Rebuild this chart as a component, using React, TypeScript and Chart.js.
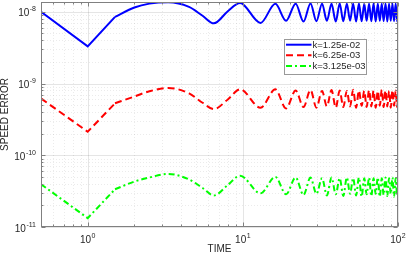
import React, { useEffect, useRef } from 'react';
import { Chart, registerables } from 'chart.js';

Chart.register(...registerables);

const seriesLabels = ['k=1.25e-02', 'k=6.25e-03', 'k=3.125e-03'];
const seriesColors = ['#0000ff', '#ff0000', '#00ff00'];
const seriesDashes: number[][] = [[], [7, 4], [6, 3, 2, 3]];

const headTimes = [0.5, 1, 1.5];
const blueHead = [1.0e-8, 3.3e-9, 8.5e-9];
const redHead = [6.2e-10, 2.13e-10, 5.3e-10];
const greenHead = [3.95e-11, 1.33e-11, 3.36e-11];

const mainTimes = [
  1.5, 2, 2.5, 3.3, 4.5, 5.5, 6.5, 8.0,
  9.6, 13.0, 16.2, 19.0, 21.9, 24.6, 27.3, 29.8, 32.4, 34.8, 37.3, 39.7,
  42.1, 44.4, 46.8, 49.1, 51.4, 53.7, 56.0, 58.3, 60.6, 62.8, 65.1, 67.3,
  69.6, 71.8, 74.1, 76.3, 78.6, 80.8, 83.1, 85.3, 87.6, 89.8, 92.1, 94.3,
  96.6, 98.8, 100,
];
const blueMain = [
  8.5e-9, 1.15e-8, 1.3e-8, 1.36e-8, 1.17e-8, 8.8e-9, 6.9e-9, 1.02e-8,
  1.33e-8, 7.0e-9, 1.29e-8, 7.5e-9, 1.3e-8, 7.3e-9, 1.31e-8, 7.4e-9, 1.3e-8, 7.5e-9, 1.29e-8, 7.3e-9,
  1.31e-8, 7.4e-9, 1.3e-8, 7.5e-9, 1.3e-8, 7.3e-9, 1.31e-8, 7.4e-9, 1.29e-8, 7.5e-9, 1.3e-8, 7.4e-9,
  1.31e-8, 7.3e-9, 1.3e-8, 7.5e-9, 1.29e-8, 7.4e-9, 1.31e-8, 7.3e-9, 1.3e-8, 7.5e-9, 1.3e-8, 7.4e-9,
  1.31e-8, 7.3e-9, 1.0e-8,
];
const redMain = [
  5.3e-10, 6.6e-10, 7.8e-10, 8.7e-10, 7.3e-10, 5.4e-10, 4.4e-10, 6.0e-10,
  8.3e-10, 4.6e-10, 8.3e-10, 4.5e-10, 8.0e-10, 4.7e-10, 8.1e-10, 4.6e-10, 7.9e-10, 4.8e-10, 8.1e-10, 4.6e-10,
  8.0e-10, 4.7e-10, 7.9e-10, 4.8e-10, 8.2e-10, 4.6e-10, 8.0e-10, 4.9e-10, 7.9e-10, 4.7e-10, 8.1e-10, 4.8e-10,
  8.0e-10, 4.6e-10, 7.9e-10, 4.9e-10, 8.2e-10, 4.7e-10, 8.0e-10, 4.8e-10, 7.9e-10, 4.6e-10, 8.1e-10, 4.9e-10,
  8.0e-10, 4.7e-10, 6.0e-10,
];
const greenMain = [
  3.36e-11, 4.3e-11, 4.9e-11, 5.5e-11, 4.6e-11, 3.5e-11, 2.75e-11, 3.85e-11,
  5.2e-11, 2.95e-11, 5.0e-11, 2.85e-11, 4.9e-11, 2.8e-11, 4.9e-11, 2.9e-11, 4.8e-11, 2.75e-11, 4.9e-11, 2.85e-11,
  4.8e-11, 2.7e-11, 4.9e-11, 2.9e-11, 4.8e-11, 2.75e-11, 4.9e-11, 2.65e-11, 4.8e-11, 2.85e-11, 4.9e-11, 2.7e-11,
  4.8e-11, 2.9e-11, 4.9e-11, 2.65e-11, 4.8e-11, 2.8e-11, 4.9e-11, 2.7e-11, 4.8e-11, 2.9e-11, 4.9e-11, 2.65e-11,
  4.8e-11, 2.75e-11, 3.8e-11,
];

const xMin = 0.5;
const xMax = 100;
const yMin = 1e-11;
const yMax = 1.37e-8;
const xTickValues = [1, 10, 100];
const xTickExps = ['0', '1', '2'];
const yTickValues = [1e-11, 1e-10, 1e-9, 1e-8];
const yTickExps = ['-11', '-10', '-9', '-8'];
const xTitle = 'TIME';
const yTitle = 'SPEED ERROR';

const FONT = '"Liberation Sans", Arial, Helvetica, sans-serif';
const TEXT = '#262626';
const AXIS = '#808080';

function minorValues(lo: number, hi: number, majors: number[]): number[] {
  const out: number[] = [];
  const decades = [1e-12, 1e-11, 1e-10, 1e-9, 1e-8, 0.1, 1, 10];
  for (const d of decades) {
    for (let m = 2; m <= 9; m++) {
      const v = m * d;
      if (v >= lo * 0.999 && v <= hi * 1.001 && !majors.includes(v)) out.push(v);
    }
  }
  return out;
}

function drawPow(ctx: CanvasRenderingContext2D, exp: string, x: number, y: number, align: 'right' | 'center') {
  ctx.font = `10px ${FONT}`;
  const wb = ctx.measureText('10').width;
  ctx.font = `7px ${FONT}`;
  const we = ctx.measureText(exp).width;
  const total = wb + we + 0.5;
  const left = align === 'right' ? x - total : x - total / 2;
  ctx.textAlign = 'left';
  ctx.textBaseline = 'alphabetic';
  ctx.fillStyle = TEXT;
  ctx.font = `10px ${FONT}`;
  ctx.fillText('10', left, y + 4.5);
  ctx.font = `7px ${FONT}`;
  ctx.fillText(exp, left + wb + 0.5, y - 0.5);
}

const matlabAxes = {
  id: 'matlabAxes',
  beforeDatasetsDraw(chart: any) {
    const { ctx, chartArea: a, scales } = chart;
    const xs = scales.x;
    const ys = scales.y;
    ctx.save();
    ctx.lineWidth = 1;
    // minor grid
    ctx.strokeStyle = 'rgba(0,0,0,0.08)';
    ctx.setLineDash([1, 2]);
    for (const v of minorValues(xMin, xMax, xTickValues)) {
      const px = Math.round(xs.getPixelForValue(v)) + 0.5;
      ctx.beginPath(); ctx.moveTo(px, a.top); ctx.lineTo(px, a.bottom); ctx.stroke();
    }
    for (const v of minorValues(yMin, yMax, yTickValues)) {
      const py = Math.round(ys.getPixelForValue(v)) + 0.5;
      ctx.beginPath(); ctx.moveTo(a.left, py); ctx.lineTo(a.right, py); ctx.stroke();
    }
    // major grid
    ctx.setLineDash([]);
    ctx.strokeStyle = 'rgba(0,0,0,0.1)';
    for (const v of xTickValues) {
      const px = Math.round(xs.getPixelForValue(v)) + 0.5;
      ctx.beginPath(); ctx.moveTo(px, a.top); ctx.lineTo(px, a.bottom); ctx.stroke();
    }
    for (const v of yTickValues) {
      const py = Math.round(ys.getPixelForValue(v)) + 0.5;
      ctx.beginPath(); ctx.moveTo(a.left, py); ctx.lineTo(a.right, py); ctx.stroke();
    }
    ctx.restore();
  },
  afterDatasetsDraw(chart: any) {
    const { ctx, chartArea: a, scales, data } = chart;
    const xs = scales.x;
    const ys = scales.y;
    ctx.save();
    // box
    ctx.strokeStyle = AXIS;
    ctx.lineWidth = 1;
    ctx.setLineDash([]);
    const L = Math.round(a.left) + 0.5;
    const R = Math.round(a.right) - 0.5;
    const T = Math.round(a.top) + 0.5;
    const B = Math.round(a.bottom) - 0.5;
    ctx.strokeRect(L, T, R - L, B - T);
    // ticks
    const tick = (vals: number[], len: number) => {
      for (const v of vals) {
        const px = Math.round(xs.getPixelForValue(v)) + 0.5;
        ctx.beginPath();
        ctx.moveTo(px, B); ctx.lineTo(px, B - len);
        ctx.moveTo(px, T); ctx.lineTo(px, T + len);
        ctx.stroke();
      }
    };
    const tickY = (vals: number[], len: number) => {
      for (const v of vals) {
        const py = Math.round(ys.getPixelForValue(v)) + 0.5;
        ctx.beginPath();
        ctx.moveTo(L, py); ctx.lineTo(L + len, py);
        ctx.moveTo(R, py); ctx.lineTo(R - len, py);
        ctx.stroke();
      }
    };
    tick(xTickValues, 4);
    tick(minorValues(xMin, xMax, xTickValues), 2);
    tickY(yTickValues, 4);
    tickY(minorValues(yMin, yMax, yTickValues), 2);

    // tick labels
    xTickValues.forEach((v, i) => {
      drawPow(ctx, xTickExps[i], xs.getPixelForValue(v), 238, 'center');
    });
    yTickValues.forEach((v, i) => {
      drawPow(ctx, yTickExps[i], 36, ys.getPixelForValue(v), 'right');
    });

    // titles
    ctx.fillStyle = TEXT;
    ctx.font = `10px ${FONT}`;
    ctx.textAlign = 'center';
    ctx.textBaseline = 'middle';
    ctx.fillText(xTitle, (a.left + a.right) / 2, 249);
    ctx.save();
    ctx.translate(5, (a.top + a.bottom) / 2);
    ctx.rotate(-Math.PI / 2);
    ctx.fillText(yTitle, 0, 0);
    ctx.restore();

    // legend
    const lx = 284.5, ly = 39.5, lw = 82, lh = 35;
    ctx.fillStyle = '#ffffff';
    ctx.fillRect(lx, ly, lw, lh);
    ctx.strokeStyle = '#999999';
    ctx.strokeRect(lx, ly, lw, lh);
    const rows = [44.7, 55.3, 66];
    for (let i = 0; i < 3; i++) {
      const ds = data.datasets[i];
      ctx.strokeStyle = ds.borderColor;
      ctx.lineWidth = 2;
      ctx.setLineDash(ds.borderDash || []);
      ctx.beginPath();
      ctx.moveTo(286, rows[i]);
      ctx.lineTo(311.5, rows[i]);
      ctx.stroke();
      ctx.setLineDash([]);
      ctx.fillStyle = TEXT;
      ctx.font = `9.5px ${FONT}`;
      ctx.textAlign = 'left';
      ctx.textBaseline = 'middle';
      ctx.fillText(ds.label, 312.5, rows[i] + 0.5);
    }
    ctx.restore();
  },
};

function pts(xs: number[], ys: number[]) {
  return xs.map((x, i) => ({ x, y: ys[i] }));
}

export default function App() {
  const ref = useRef<HTMLCanvasElement | null>(null);
  useEffect(() => {
    if (!ref.current) return;
    const mains = [blueMain, redMain, greenMain];
    const heads = [blueHead, redHead, greenHead];
    const datasets: any[] = [];
    for (let i = 0; i < 3; i++) {
      datasets.push({
        label: seriesLabels[i],
        data: pts(mainTimes, mains[i]),
        borderColor: seriesColors[i],
        borderDash: seriesDashes[i],
        borderWidth: 2,
        pointRadius: 0,
        fill: false,
        cubicInterpolationMode: 'monotone',
      });
    }
    for (let i = 0; i < 3; i++) {
      datasets.push({
        label: '',
        data: pts(headTimes, heads[i]),
        borderColor: seriesColors[i],
        borderDash: seriesDashes[i],
        borderWidth: 2,
        pointRadius: 0,
        fill: false,
        tension: 0,
      });
    }
    const chart = new Chart(ref.current, {
      type: 'line',
      data: { datasets },
      options: {
        animation: false,
        responsive: false,
        maintainAspectRatio: false,
        devicePixelRatio: 1,
        layout: { padding: { left: 41, right: 8, top: 2, bottom: 29 } },
        plugins: { legend: { display: false }, tooltip: { enabled: false } },
        scales: {
          x: { type: 'logarithmic', min: xMin, max: xMax, display: false },
          y: { type: 'logarithmic', min: yMin, max: yMax, display: false },
        },
      },
      plugins: [matlabAxes],
    } as any);
    return () => chart.destroy();
  }, []);
  return (
    <div style={{ position: 'absolute', left: 0, top: 0, width: 406, height: 256, background: '#fff' }}>
      <canvas ref={ref} width={406} height={256} />
    </div>
  );
}
